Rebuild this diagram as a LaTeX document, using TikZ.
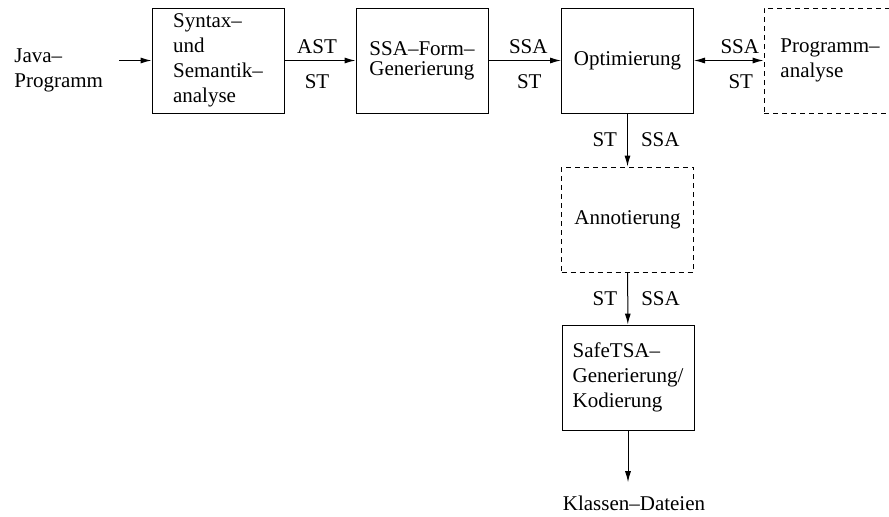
\documentclass[tikz,border=0pt]{standalone}
\usepackage{fontspec}
\setmainfont{Liberation Serif}
\usetikzlibrary{calc}
\usetikzlibrary{arrows.meta}

\tikzset{
  block/.style={draw, line width=0.5pt, minimum width=66pt, minimum height=52.5pt, inner sep=0pt, align=left},
  optblock/.style={block, dash pattern=on 2.5pt off 2pt},
  flow/.style={line width=0.5pt, -{Latex[length=5.5pt,width=3pt]}},
  bothflow/.style={line width=0.5pt, {Latex[length=5.5pt,width=3pt]}-{Latex[length=5.5pt,width=3pt]}},
  tagup/.style={above, inner sep=3pt},
  tagdown/.style={below, inner sep=7pt},
}

\begin{document}
\begin{tikzpicture}[x=0.5pt, y=-0.5pt, font=\fontsize{10.5}{12.4}\selectfont]
\useasboundingbox (0,0) rectangle (889,516);
\clip (0,0) rectangle (889,516);

% input
\node [inner sep=0pt, align=left, anchor=west] (java) at (14,70) {Java--\\Programm};

% front end
\node [block] (syntax) at (218,60.5) {Syntax--\\und\\Semantik--\\analyse};
\node [block] (ssaform) at (422,60.5) {SSA--Form--\\[-2.5pt]Generierung};
\node [block, align=center] (opt) at (627.5,60.5) {Optimierung};
\node [optblock, align=left] (prog) at (830,60.5) {Programm--\\analyse};

% back end
\node [optblock] (annot) at (627.5,219.5) {Annotierung};
\node [block] (safetsa) at (628,377.5) {SafeTSA--\\Generierung/\\Kodierung};
\node [inner xsep=0pt, inner ysep=6.5pt] (classes) at (634,503) {Klassen--Dateien};

% horizontal flow
\draw [flow, shorten <=8pt] (java.east |- syntax.west) -- (syntax.west);
\draw [flow] (syntax) -- (ssaform)
  node [tagup, midway, xshift=-1.5pt] {AST}
  node [tagdown, midway, xshift=-1.5pt] {ST};
\draw [flow] (ssaform) -- (opt)
  node [tagup, pos=0, anchor=south west, xshift=7pt] {SSA}
  node [tagdown, pos=0, anchor=north west, xshift=7pt] {ST};
\draw [bothflow] (opt) -- (prog)
  node [tagup, pos=0, anchor=south west, xshift=10pt] {SSA}
  node [tagdown, pos=0, anchor=north west, xshift=10pt] {ST};

% vertical flow
\draw [flow] (opt) -- (annot)
  node [midway, left, inner sep=5pt] {ST}
  node [midway, right, inner sep=6.5pt] {SSA};
\draw [flow] (annot) -- (safetsa)
  node [midway, left, inner sep=5pt] {ST}
  node [midway, right, inner sep=6.5pt] {SSA};
\draw [flow] (safetsa.south) -- (safetsa.south |- classes.north);
\end{tikzpicture}
\end{document}
